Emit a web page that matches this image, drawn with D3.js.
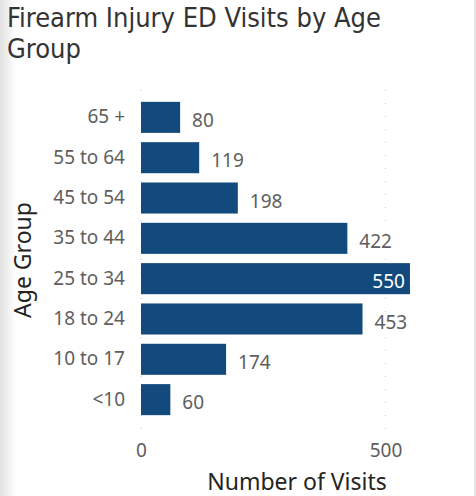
<!DOCTYPE html>
<html>
<head>
<meta charset="utf-8">
<script src="https://cdn.jsdelivr.net/npm/d3@7"></script>
<style>
  body { margin: 0; background: #fff; }
  svg { display: block; }
</style>
</head>
<body>
<svg id="chart" width="476" height="496"></svg>
<script>
// data
const ageGroups = ["65 +", "55 to 64", "45 to 54", "35 to 44", "25 to 34", "18 to 24", "10 to 17", "<10"];
const visits = [80, 119, 198, 422, 550, 453, 174, 60];
const xTicks = [0, 500];

const W = 476, H = 496;
const margin = { top: 97, left: 141, right: 66, bottom: 76 };
const FONT = "'Noto Sans', 'DejaVu Sans', sans-serif";
const TITLE_FONT = "'DejaVu Sans Condensed', 'Noto Sans', sans-serif";

const svg = d3.select("#chart");

// left shadow + right border like the report card
const defs = svg.append("defs");
const grad = defs.append("linearGradient").attr("id", "shade");
grad.append("stop").attr("offset", "0%").attr("stop-color", "#e2e2e2");
grad.append("stop").attr("offset", "100%").attr("stop-color", "#ffffff");
svg.append("rect").attr("x", 0).attr("y", 0).attr("width", 16).attr("height", H).attr("fill", "url(#shade)");
svg.append("rect").attr("x", 474).attr("y", 0).attr("width", 2).attr("height", H).attr("fill", "#e6e6e6");

// title
const title = svg.append("text")
    .attr("font-family", TITLE_FONT)
    .attr("font-size", 27)
    .attr("fill", "#333333");
title.append("tspan").attr("x", 7).attr("y", 27).text("Firearm Injury ED Visits by Age");
title.append("tspan").attr("x", 7).attr("y", 58).text("Group");

const x = d3.scaleLinear()
    .domain([0, 500])
    .range([margin.left, 385.5]);

const y = d3.scaleBand()
    .domain(ageGroups)
    .range([margin.top, H - margin.bottom])
    .paddingInner(0.23)
    .paddingOuter(0.12);

// dotted gridlines
svg.append("g")
    .selectAll("line")
    .data(xTicks)
    .join("line")
    .attr("x1", d => x(d)).attr("x2", d => x(d))
    .attr("y1", 90).attr("y2", 432)
    .attr("stroke", "#c8c8c8")
    .attr("stroke-width", 1)
    .attr("stroke-dasharray", "1,12");

// x axis
const xAxis = svg.append("g")
    .attr("transform", `translate(0,${443})`)
    .call(d3.axisBottom(x).tickValues(xTicks).tickSize(0).tickPadding(0));
xAxis.select(".domain").remove();
xAxis.selectAll("text")
    .attr("font-family", FONT)
    .attr("font-size", 19)
    .attr("fill", "#605e5c");

// y axis
const yAxis = svg.append("g")
    .attr("transform", `translate(${margin.left - 16},0)`)
    .call(d3.axisLeft(y).tickSize(0).tickPadding(0));
yAxis.select(".domain").remove();
yAxis.selectAll("text")
    .attr("font-family", FONT)
    .attr("font-size", 19)
    .attr("fill", "#605e5c");

// bars
const rows = ageGroups.map((g, i) => ({ group: g, value: visits[i] }));
svg.append("g")
    .selectAll("rect")
    .data(rows)
    .join("rect")
    .attr("x", x(0))
    .attr("y", d => y(d.group))
    .attr("width", d => x(d.value) - x(0))
    .attr("height", y.bandwidth())
    .attr("fill", "#124a7e");

// value labels, inside the bar when it runs past the last tick
svg.append("g")
    .selectAll("text")
    .data(rows)
    .join("text")
    .attr("font-family", FONT)
    .attr("font-size", 19)
    .attr("dy", "0.35em")
    .attr("y", d => y(d.group) + y.bandwidth() / 2 + 3)
    .attr("x", d => d.value > 500 ? x(d.value) - 5 : x(d.value) + 12)
    .attr("text-anchor", d => d.value > 500 ? "end" : "start")
    .attr("fill", d => d.value > 500 ? "#ffffff" : "#605e5c")
    .text(d => d.value);

// axis titles
svg.append("text")
    .attr("transform", `translate(31,${260}) rotate(-90)`)
    .attr("text-anchor", "middle")
    .attr("font-family", FONT)
    .attr("font-size", 23)
    .attr("fill", "#252423")
    .text("Age Group");

svg.append("text")
    .attr("x", 297).attr("y", 490)
    .attr("text-anchor", "middle")
    .attr("font-family", FONT)
    .attr("font-size", 23)
    .attr("fill", "#252423")
    .text("Number of Visits");
</script>
</body>
</html>
